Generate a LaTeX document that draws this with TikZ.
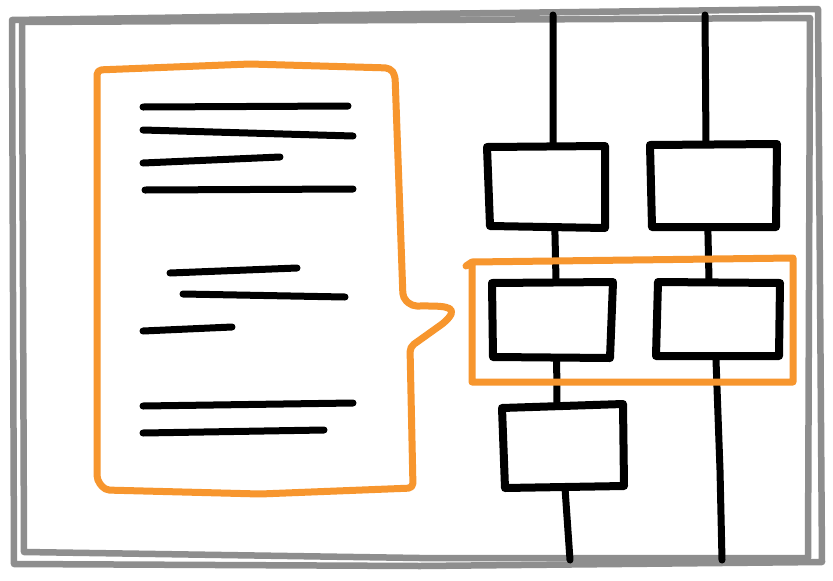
\documentclass[tikz,border=0pt]{standalone}
\usepackage{xcolor}
\definecolor{sketchgray}{HTML}{8E8E8E}
\definecolor{sketchorange}{HTML}{F7962E}

\begin{document}
\begin{tikzpicture}[x=0.03cm, y=-0.03cm, line join=round, line cap=round,
  frame/.style={draw=sketchgray, line width=6.5*0.03cm},
  track/.style={draw=black, line width=7*0.03cm},
  slot/.style={draw=black, fill=white, line width=8*0.03cm},
  highlight/.style={draw=sketchorange, line width=7*0.03cm},
  scribble/.style={draw=black, line width=7*0.03cm}]
		\useasboundingbox (0,0) rectangle (833,580);
		\fill[white] (0,0) rectangle (833,580);
		% outer frame, drawn twice
		\draw[frame] (12,20) -- (420,14) -- (818,9) -- (822,562) -- (420,566) -- (14,564) -- cycle;
		\draw[frame] (22,22) -- (810,18) -- (808,558) -- (420,558) -- (24,552) -- cycle;
		% tracks
		\draw[track] (553,15) -- (553,145) -- (556,280) -- (557,405) -- (565,488) -- (570,560);
		\draw[track] (705,15) -- (706,145) -- (709,280) -- (716,360) -- (720,470) -- (722,560);
		% slots
		\draw[slot] (487,147) -- (605,146) -- (605,228) -- (490,226) -- cycle;
		\draw[slot] (650,145) -- (777,144) -- (776,227) -- (652,227) -- cycle;
		\draw[slot] (492,283) -- (613,282) -- (610,358) -- (493,357) -- cycle;
		\draw[slot] (658,282) -- (780,283) -- (779,356) -- (656,356) -- cycle;
		\draw[slot] (502,408) -- (623,404) -- (624,486) -- (505,488) -- cycle;
		% selection
		\draw[highlight] (466,266) -- (472,262) -- (793,258) -- (793,382) -- (472,382) -- (472,262);
		% callout
		\draw[highlight, rounded corners=4] (97,70) -- (250,64) -- (390,68) -- (395,75) -- (403,298) -- (412,306)
		  .. controls (440,306) and (460,305) .. (445,322) -- (410,347) -- (413,488) -- (260,494) -- (105,490) -- (97,480) -- cycle;
		% text lines
		\foreach \xa/\ya/\xb/\yb in {143/107/348/106, 143/130/353/136, 143/163/280/157, 145/190/353/189,
		  170/273/297/268, 183/294/345/297, 143/331/232/327, 143/406/353/403, 143/433/324/430}
		  \draw[scribble] (\xa,\ya) -- (\xb,\yb);
	\end{tikzpicture}
\end{document}
